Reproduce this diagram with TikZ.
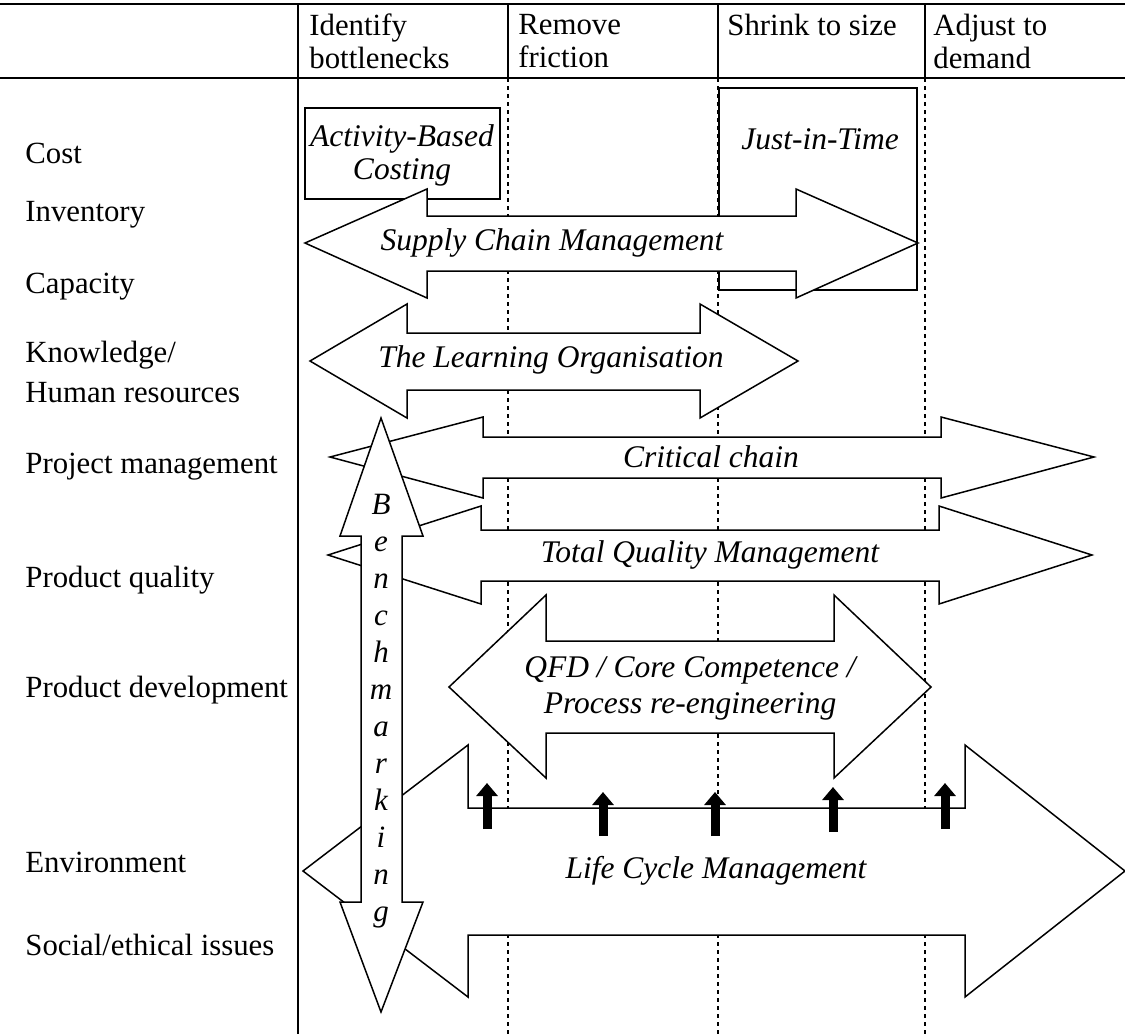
\documentclass[tikz,border=0pt]{standalone}
\usepackage{fontspec}
\setmainfont{Liberation Serif}
\usetikzlibrary{arrows.meta}

\tikzset{
  lbl/.style={inner sep=0pt, font=\fontsize{15.4}{20}\selectfont, align=left, anchor=west},
  hdr/.style={lbl, font=\fontsize{15.4}{16.5}\selectfont},
  itl/.style={inner sep=0pt, font=\fontsize{15.75}{18}\selectfont\itshape, align=center},
  band/.style={draw, fill=white, line width=0.75pt, line join=miter},
  griddash/.style={dash pattern=on 2pt off 2pt, line width=0.7pt},
  upblk/.style={line width=4.5pt, -{Triangle[width=10.5pt,length=6.5pt]}}
}

\begin{document}
\begin{tikzpicture}[x=0.5pt, y=-0.5pt]
\useasboundingbox (0,0) rectangle (1125,1034);

% table frame
\draw[line width=1pt] (0,4) -- (1125,4);
\draw[line width=1pt] (0,78) -- (1125,78);
\draw[line width=1pt] (298,4) -- (298,1034);
\draw[line width=0.8pt] (508,4) -- (508,78) (718,4) -- (718,78) (925,4) -- (925,78);
\draw[griddash] (508,78) -- (508,1034);
\draw[griddash, line width=1.2pt] (718,78) -- (718,1034);
\draw[griddash] (925,78) -- (925,1034);

% column heads
\node[hdr] (identify) at (309,41) {Identify\\bottlenecks};
\node[hdr] (remove) at (518,41) {Remove\\friction};
\node[hdr] (shrink) at (727,25) {Shrink to size};
\node[hdr] (adjust) at (933,41) {Adjust to\\demand};

% row heads
\node[lbl] (cost) at (25,153) {Cost};
\node[lbl] (inventory) at (25,215) {Inventory};
\node[lbl] (capacity) at (25,287) {Capacity};
\node[lbl] (knowledge) at (25,372) {Knowledge/\\Human resources};
\node[lbl] (project) at (25,467) {Project management};
\node[lbl] (quality) at (25,580) {Product quality};
\node[lbl] (development) at (25,690) {Product development};
\node[lbl] (environment) at (25,862) {Environment};
\node[lbl] (social) at (25,945) {Social/ethical issues};

% boxes
\draw[band] (305,108) rectangle (500,199);
\draw[band] (719,88) rectangle (917,290);

% double arrows
\draw[band] (305,243) -- (427,189) -- (427,216) -- (796,216) -- (796,189) -- (918,243)
  -- (796,298) -- (796,271) -- (427,271) -- (427,298) -- cycle;
\draw[band] (310,361) -- (407,304) -- (407,333) -- (700,333) -- (700,304) -- (798,361)
  -- (700,418) -- (700,390) -- (407,390) -- (407,418) -- cycle;
\draw[band] (330,457) -- (483,417) -- (483,437) -- (941,437) -- (941,417) -- (1094,457)
  -- (941,498) -- (941,478) -- (483,478) -- (483,498) -- cycle;
\draw[band] (328,555) -- (481,506) -- (481,530) -- (939,530) -- (939,506) -- (1092,555)
  -- (939,604) -- (939,581) -- (481,581) -- (481,604) -- cycle;
\draw[band] (449,687) -- (546,595) -- (546,641) -- (834,641) -- (834,595) -- (931,687)
  -- (834,778) -- (834,733) -- (546,733) -- (546,778) -- cycle;
\draw[band] (303,871) -- (468,745) -- (468,808) -- (965,808) -- (965,745) -- (1125,871)
  -- (965,997) -- (965,935) -- (468,935) -- (468,997) -- cycle;

% small arrows on life cycle
\draw[upblk] (487,829) -- (487,783);
\draw[upblk] (603,836) -- (603,792);
\draw[upblk] (715,836) -- (715,792);
\draw[upblk] (833,832) -- (833,787);
\draw[upblk] (945,829) -- (945,783);

% benchmarking
\draw[band] (381,418) -- (423,536) -- (402,536) -- (402,902) -- (423,902) -- (381,1012)
  -- (340,902) -- (361,902) -- (361,536) -- (340,536) -- cycle;

% labels
\node[itl, font=\fontsize{15.75}{16.5}\selectfont\itshape] (abc) at (402,155) {Activity-Based\\Costing};
\node[itl] (jit) at (820,139) {Just-in-Time};
\node[itl] (scm) at (552,243) {Supply Chain Management};
\node[itl] (tlo) at (551,360) {The Learning Organisation};
\node[itl] (crit) at (711,457) {Critical chain};
\node[itl] (tqm) at (710,555) {Total Quality Management};
\node[itl] (qfd) at (690,688) {QFD / Core Competence /\\Process re-engineering};
\node[itl] (lcm) at (716,871) {Life Cycle Management};
\node[itl, font=\fontsize{15.5}{18.5}\selectfont\itshape] (bench) at (381,711) {B\\e\\n\\c\\h\\m\\a\\r\\k\\i\\n\\g};

\end{tikzpicture}
\end{document}
